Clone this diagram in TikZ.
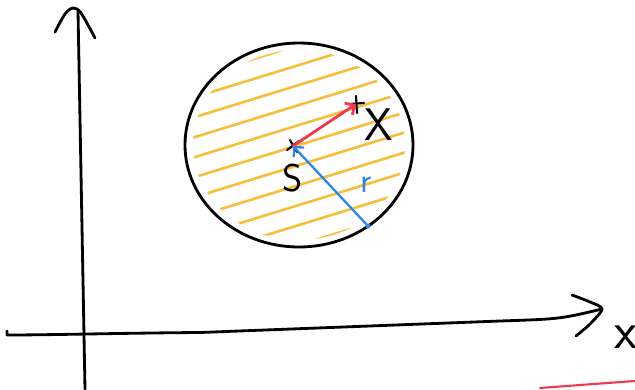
\documentclass[tikz,border=0pt]{standalone}
\usepackage{amsmath}
\usepackage{xcolor}
\usepackage{tikz}
\usetikzlibrary{arrows.meta, positioning, calc}

\definecolor{hatchyellow}{HTML}{F4C03E}
\definecolor{penred}{HTML}{EE3A4C}
\definecolor{penblue}{HTML}{2F86E8}

\tikzset{
    pen/.style={line width=1.6pt, line cap=round, line join=round},
    hatch/.style={pen, hatchyellow, line width=1.5pt},
    sketchlabel/.style={font=\sffamily\fontsize{22}{24}\selectfont, inner sep=0pt}
}

\begin{document}
\begin{tikzpicture}
\useasboundingbox (0,0) rectangle (12.7,7.78);

% Axes
\coordinate (ybot) at (1.70,0);
\coordinate (ytop) at (1.56,7.56);
\coordinate (xleft) at (0.14,1.08);
\coordinate (xtip) at (12.04,1.60);
\draw[pen] (ybot) -- (ytop);
\draw[pen] plot[smooth] coordinates {(1.10,7.14) (1.30,7.50) (1.46,7.62) (1.62,7.52) (1.90,7.02)};
\draw[pen] (0.14,1.16) -- (xleft) .. controls (1.0,1.08) and (2.5,1.12) .. (4.0,1.13)
    -- (10.0,1.36) .. controls (11.2,1.40) .. (xtip);
\draw[pen] plot[smooth] coordinates {(11.44,1.88) (11.80,1.74) (12.04,1.60) (11.80,1.30) (11.52,1.06)};
\node[sketchlabel, font=\sffamily\fontsize{30}{32}\selectfont] (xlabel) at (12.52,1.04) {x};

% Region
\coordinate (c) at (5.98,4.88);
\begin{scope}
    \clip (c) ellipse [x radius=2.12, y radius=1.90];
    \foreach \k in {-6,...,6}
        \draw[hatch] ($(c)+(-2.6,\k*0.40-0.80)$) -- ($(c)+(2.6,\k*0.40+0.80)$);
\end{scope}
\draw[pen] (c) ellipse [x radius=2.28, y radius=2.04];

% Points
\coordinate (s) at (5.86,4.86);
\coordinate (xpt) at (7.12,5.70);
\coordinate (rend) at (7.36,3.26);
\draw[pen, line width=1.2pt] ($(s)+(-0.12,-0.08)$) -- ($(s)+(0.12,0.10)$);
\draw[pen, line width=1.2pt] ($(s)+(-0.06,0.12)$) -- ($(s)+(0.08,-0.12)$);
\draw[pen, line width=1.2pt] ($(xpt)+(-0.14,0)$) -- ($(xpt)+(0.16,0.02)$);
\draw[pen, line width=1.2pt] ($(xpt)+(0,0.16)$) -- ($(xpt)+(0.02,-0.18)$);

\draw[pen, penred, -{Straight Barb[length=4pt]}] (s) -- (xpt);
\draw[pen, penblue, line width=1.3pt, -{Straight Barb[length=4pt]}] (rend) -- (s);
\fill[penblue] (rend) circle (0.05);

\node[sketchlabel, font=\sffamily\fontsize{26}{28}\selectfont] (xname) at (7.58,5.28) {X};
\node[sketchlabel] (sname) at (5.86,4.22) {S};
\node[sketchlabel, penblue, font=\sffamily\fontsize{20}{22}\selectfont] (rname) at (7.32,4.08) {r};

% Stray stroke
\draw[pen, penred, line width=1.2pt] (10.8,0.02) .. controls (11.6,0.08) .. (12.7,0.16);
\end{tikzpicture}
\end{document}
